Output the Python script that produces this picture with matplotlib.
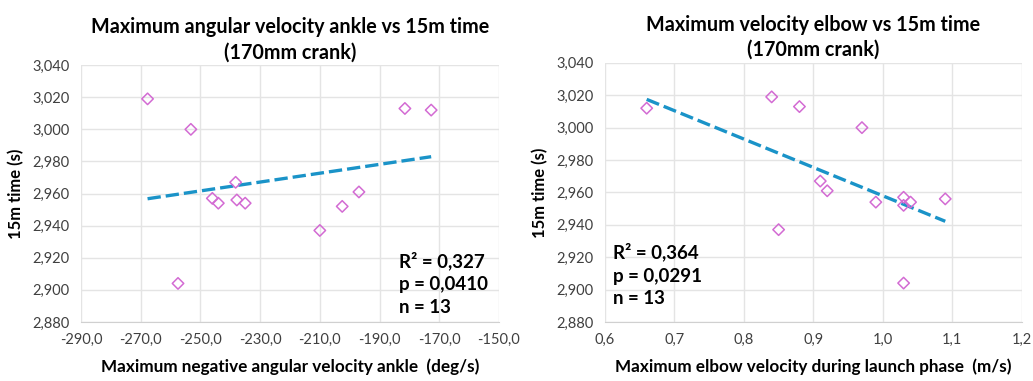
import numpy as np
import matplotlib
matplotlib.use("Agg")
import matplotlib.pyplot as plt
from matplotlib.ticker import FuncFormatter

# Dados (13 atletas)
tempo_15m = [3.019, 3.000, 2.904, 2.957, 2.954, 2.967, 2.956, 2.954,
             2.937, 2.952, 2.961, 3.013, 3.012]
vel_tornozelo = [-267.7, -253.2, -257.5, -246.0, -244.0, -238.2, -237.8,
                 -235.0, -210.0, -202.5, -196.9, -181.5, -172.7]

tempo_cotovelo = [3.012, 3.019, 3.013, 3.000, 2.967, 2.961, 2.937, 2.954,
                  2.957, 2.952, 2.954, 2.956, 2.904]
vel_cotovelo = [0.66, 0.84, 0.88, 0.97, 0.91, 0.92, 0.85, 0.99,
                1.03, 1.03, 1.04, 1.09, 1.03]

titulos = ["Maximum angular velocity ankle vs 15m time\n(170mm crank)",
           "Maximum velocity elbow vs 15m time\n(170mm crank)"]
rotulos_x = ["Maximum negative angular velocity ankle  (deg/s)",
             "Maximum elbow velocity during launch phase  (m/s)"]
estatisticas = ["R² = 0,327\np = 0,0410\nn = 13",
                "R² = 0,364\np = 0,0291\nn = 13"]

cor_marcador = "#d36bd3"
cor_tendencia = "#1a93c8"
cor_grade = "#e4e4e4"

plt.rcParams["font.family"] = ["Lato", "DejaVu Sans"]

fig = plt.figure(figsize=(10.33, 3.81), dpi=100)
ax1 = fig.add_axes([0.0784, 0.155, 0.4046, 0.674])
ax2 = fig.add_axes([0.5857, 0.155, 0.4033, 0.680])


def virgula(dec):
    return FuncFormatter(lambda v, p: f"{v:.{dec}f}".replace(".", ","))


def desenhar(ax, x, y, titulo, rotulo_x, texto, xlim, xticks, xdec, pos_texto):
    x = np.array(x)
    y = np.array(y)
    ax.scatter(x, y, marker="D", s=34, facecolors="none",
               edgecolors=cor_marcador, linewidths=1.1, zorder=3)
    coef = np.polyfit(x, y, 1)
    xs = np.array([x.min(), x.max()])
    ax.plot(xs, np.polyval(coef, xs), color=cor_tendencia, lw=2.4,
            ls=(0, (4, 1.5)), zorder=2)
    ax.set_xlim(*xlim)
    ax.set_ylim(2.88, 3.04)
    ax.set_xticks(xticks)
    ax.set_yticks(np.arange(2.88, 3.0401, 0.02))
    ax.xaxis.set_major_formatter(virgula(xdec))
    ax.yaxis.set_major_formatter(virgula(3))
    ax.grid(True, color=cor_grade, lw=1)
    ax.set_axisbelow(True)
    for lado in ["top", "right", "left"]:
        ax.spines[lado].set_visible(False)
    ax.spines["bottom"].set_color("#d0d0d0")
    ax.tick_params(length=0, labelsize=10.5, labelcolor="#404040", pad=8)
    ax.set_title(titulo, fontsize=14.2, fontweight="bold", pad=5, linespacing=1.3)
    ax.set_xlabel(rotulo_x, fontsize=12.3, fontweight="bold", labelpad=8)
    ax.set_ylabel("15m time (s)", fontsize=12, fontweight="bold", labelpad=6)
    ax.text(pos_texto[0], pos_texto[1], texto, transform=ax.transAxes,
            fontsize=13.5, fontweight="bold", va="top", ha="left",
            linespacing=1.42)


desenhar(ax1, vel_tornozelo, tempo_15m, titulos[0], rotulos_x[0],
         estatisticas[0], (-290, -150), np.arange(-290, -149, 20), 1,
         (0.762, 0.275))
desenhar(ax2, vel_cotovelo, tempo_cotovelo, titulos[1], rotulos_x[1],
         estatisticas[1], (0.6, 1.2), np.arange(0.6, 1.201, 0.1), 1,
         (0.018, 0.305))

fig.savefig("out.png", dpi=100)
